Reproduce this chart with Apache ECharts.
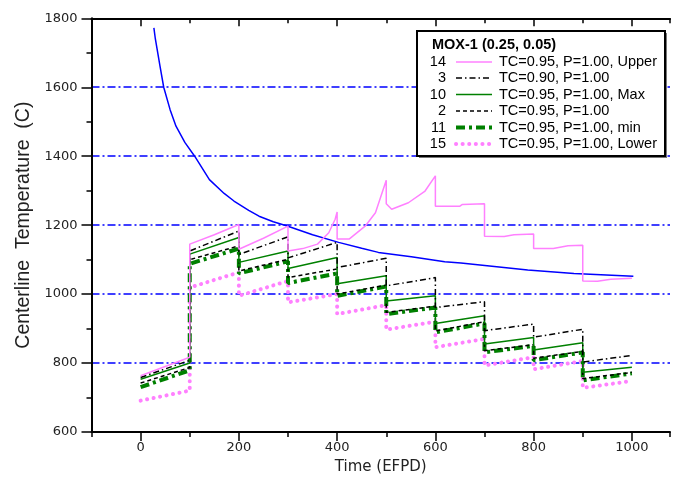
<!DOCTYPE html>
<html><head><meta charset="utf-8">
<script src="https://cdn.jsdelivr.net/npm/echarts@6/dist/echarts.min.js"></script>
<style>html,body{margin:0;padding:0;background:#fff}#c{width:673px;height:480px}</style>
</head><body><div id="c"></div>
<script>
// ---- data: [time (EFPD), centerline temperature (C)] ----
const upper14 = [[0,763],[50,790],[100,817],[100,1145],[150,1172],[200,1202],[200,1130],[250,1162],[300,1197],[300,1125],[330,1132],[360,1145],[383,1178],[396,1217],[400,1238],[400,1160],[425,1160],[457,1197],[478,1236],[500,1330],[500,1262],[511,1246],[545,1265],[579,1299],[600,1343],[600,1255],[650,1255],[655,1260],[700,1262],[700,1168],[740,1167],[760,1172],[800,1174],[800,1132],[840,1132],[870,1140],[900,1142],[900,1038],[930,1037],[957,1043],[1000,1046]];
const tc090_3 = [[0,758],[100,808],[100,1125],[200,1183],[200,1115],[300,1166],[300,1105],[400,1150],[400,1077],[500,1104],[500,1024],[600,1048],[600,961],[700,978],[700,894],[800,913],[800,875],[900,898],[900,803],[1000,822]];
const max10 = [[0,753],[100,800],[100,1116],[200,1164],[200,1092],[300,1125],[300,1074],[400,1106],[400,1030],[500,1053],[500,980],[600,995],[600,915],[700,937],[700,855],[800,874],[800,838],[900,859],[900,773],[1000,788]];
const tc095_2 = [[0,742],[100,787],[100,1100],[200,1140],[200,1067],[300,1101],[300,1048],[400,1073],[400,1000],[500,1026],[500,947],[600,965],[600,893],[700,920],[700,836],[800,853],[800,814],[900,834],[900,755],[1000,773]];
const min11 = [[0,730],[100,779],[100,1088],[200,1132],[200,1060],[300,1095],[300,1032],[400,1060],[400,995],[500,1022],[500,942],[600,961],[600,889],[700,915],[700,831],[800,850],[800,808],[900,831],[900,750],[1000,770]];
const lower15 = [[0,691],[100,720],[100,1019],[200,1063],[200,995],[300,1038],[300,976],[400,1000],[400,942],[500,968],[500,897],[600,920],[600,846],[700,870],[700,793],[800,817],[800,782],[900,806],[900,728],[1000,748]];
const limitCurve = [[27,1772],[30,1740],[39,1665],[47,1600],[60,1535],[72,1487],[90,1440],[110,1400],[140,1332],[170,1292],[190,1270],[220,1243],[241,1226],[270,1210],[300,1197],[350,1172],[403,1150],[450,1133],[484,1121],[551,1108],[619,1094],[652,1090],[720,1080],[788,1070],[882,1060],[1003,1052]];

const xLabels = [0,200,400,600,800,1000];
const legendTitle = 'MOX-1 (0.25, 0.05)';
const legendNums = ['14','3','10','2','11','15'];
const legendTexts = ['TC=0.95, P=1.00, Upper','TC=0.90, P=1.00','TC=0.95, P=1.00, Max','TC=0.95, P=1.00','TC=0.95, P=1.00, min','TC=0.95, P=1.00, Lower'];

// ---- styles ----
const PINK = '#ff80ff', GREEN = '#008000', BLUE = '#0000ff';
const FONT = '"Liberation Sans", Arial, sans-serif';
const WFONT = '"DejaVu Sans", sans-serif';
const styles = [
  {color: PINK, width: 1.5, type: 'solid', cap: 'butt'},
  {color: '#000', width: 1.5, type: [6,3,1.5,3], cap: 'butt'},
  {color: GREEN, width: 1.5, type: 'solid', cap: 'butt'},
  {color: '#000', width: 1.5, type: [4,3], cap: 'butt'},
  {color: GREEN, width: 4, type: [9,4,3,4], cap: 'butt'},
  {color: PINK, width: 4, type: [0.1,6.5], cap: 'round'}
];
const seriesData = [upper14, tc090_3, max10, tc095_2, min11, lower15];

const chart = echarts.init(document.getElementById('c'), null, {renderer: 'canvas'});
const axisLineStyle = {color: '#000', width: 2};
const tickStyle = {color: '#000', width: 1.5};
const XMIN = -100, XMAX = 1077.6;

const series = seriesData.map((d, i) => ({
  type: 'line', data: d, xAxisIndex: 0, yAxisIndex: 0, showSymbol: false, symbol: 'none',
  lineStyle: Object.assign({}, styles[i]), z: 3 + (5 - i) * 0.1, silent: true, clip: true
}));
series.push({type: 'line', data: limitCurve, xAxisIndex: 0, showSymbol: false, symbol: 'none',
  lineStyle: {color: BLUE, width: 1.5}, z: 2, silent: true});

// legend graphic
const LX = 417, LY = 31, LW = 248, LH = 125;
const gEls = [
  {type: 'rect', shape: {x: LX + 2, y: LY + 2, width: LW, height: LH}, style: {fill: '#777'}, z: 100},
  {type: 'rect', shape: {x: LX, y: LY, width: LW, height: LH}, style: {fill: '#fff', stroke: '#000', lineWidth: 2}, z: 101},
  {type: 'text', x: 432, y: 45, style: {text: legendTitle, font: 'bold 14.5px ' + FONT, fill: '#000', verticalAlign: 'middle'}, z: 102}
];
const rowY = [62, 78, 94.5, 111, 127.5, 144];
legendNums.forEach((n, i) => {
  gEls.push({type: 'text', x: 446, y: rowY[i], style: {text: n, font: '14.5px ' + FONT, fill: '#000', align: 'right', verticalAlign: 'middle'}, z: 102});
  const s = styles[i];
  gEls.push({type: 'line', shape: {x1: 456, y1: rowY[i], x2: 492, y2: rowY[i]},
    style: {stroke: s.color, lineWidth: s.width, lineDash: Array.isArray(s.type) ? s.type : null, lineCap: s.cap}, z: 102});
  gEls.push({type: 'text', x: 499, y: rowY[i], style: {text: legendTexts[i], font: '14.5px ' + FONT, fill: '#000', verticalAlign: 'middle'}, z: 102});
});

const xBase = {type: 'value', min: XMIN, max: XMAX, interval: 100, splitLine: {show: false}};
const option = {
  animation: false,
  backgroundColor: '#fff',
  grid: {left: 91.5, top: 18.3, right: 0, height: 415, containLabel: false},
  xAxis: [
    Object.assign({}, xBase, {position: 'bottom',
      axisLine: {show: true, onZero: false, lineStyle: axisLineStyle},
      axisTick: {show: true, length: 5, lineStyle: tickStyle},
      axisLabel: {formatter: v => (xLabels.indexOf(v) >= 0 ? String(v) : ''), fontSize: 13, color: '#222', margin: 9, fontFamily: WFONT},
      name: 'Time (EFPD)', nameLocation: 'middle', nameGap: 28,
      nameTextStyle: {fontSize: 15, color: '#222', fontFamily: WFONT}}),
    Object.assign({}, xBase, {position: 'bottom',
      axisLine: {show: false, onZero: false}, axisLabel: {show: false},
      axisTick: {show: true, length: 9, customValues: xLabels, lineStyle: tickStyle}}),
    Object.assign({}, xBase, {position: 'top',
      axisLine: {show: true, onZero: false, lineStyle: axisLineStyle}, axisLabel: {show: false},
      axisTick: {show: true, inside: true, length: 5, lineStyle: tickStyle}}),
    Object.assign({}, xBase, {position: 'top',
      axisLine: {show: false, onZero: false}, axisLabel: {show: false},
      axisTick: {show: true, inside: true, length: 8, customValues: xLabels, lineStyle: tickStyle}})
  ],
  yAxis: [{type: 'value', min: 600, max: 1800, interval: 200, position: 'left',
    axisLine: {show: true, onZero: false, lineStyle: axisLineStyle},
    axisTick: {show: true, length: 10, lineStyle: tickStyle},
    minorTick: {show: true, splitNumber: 2, length: 5, lineStyle: tickStyle},
    axisLabel: {formatter: v => String(v), fontSize: 13, color: '#222', margin: 14, fontFamily: WFONT},
    splitLine: {show: true, showMinLine: false, showMaxLine: false, lineStyle: {color: BLUE, width: 1.5, type: [8,3,2,3]}},
    name: 'Centerline  Temperature  (C)', nameLocation: 'middle', nameGap: 55,
    nameTextStyle: {fontSize: 19.5, color: '#222', fontFamily: FONT}}],
  series: series,
  graphic: {elements: gEls}
};
chart.setOption(option);
</script>
</body></html>
